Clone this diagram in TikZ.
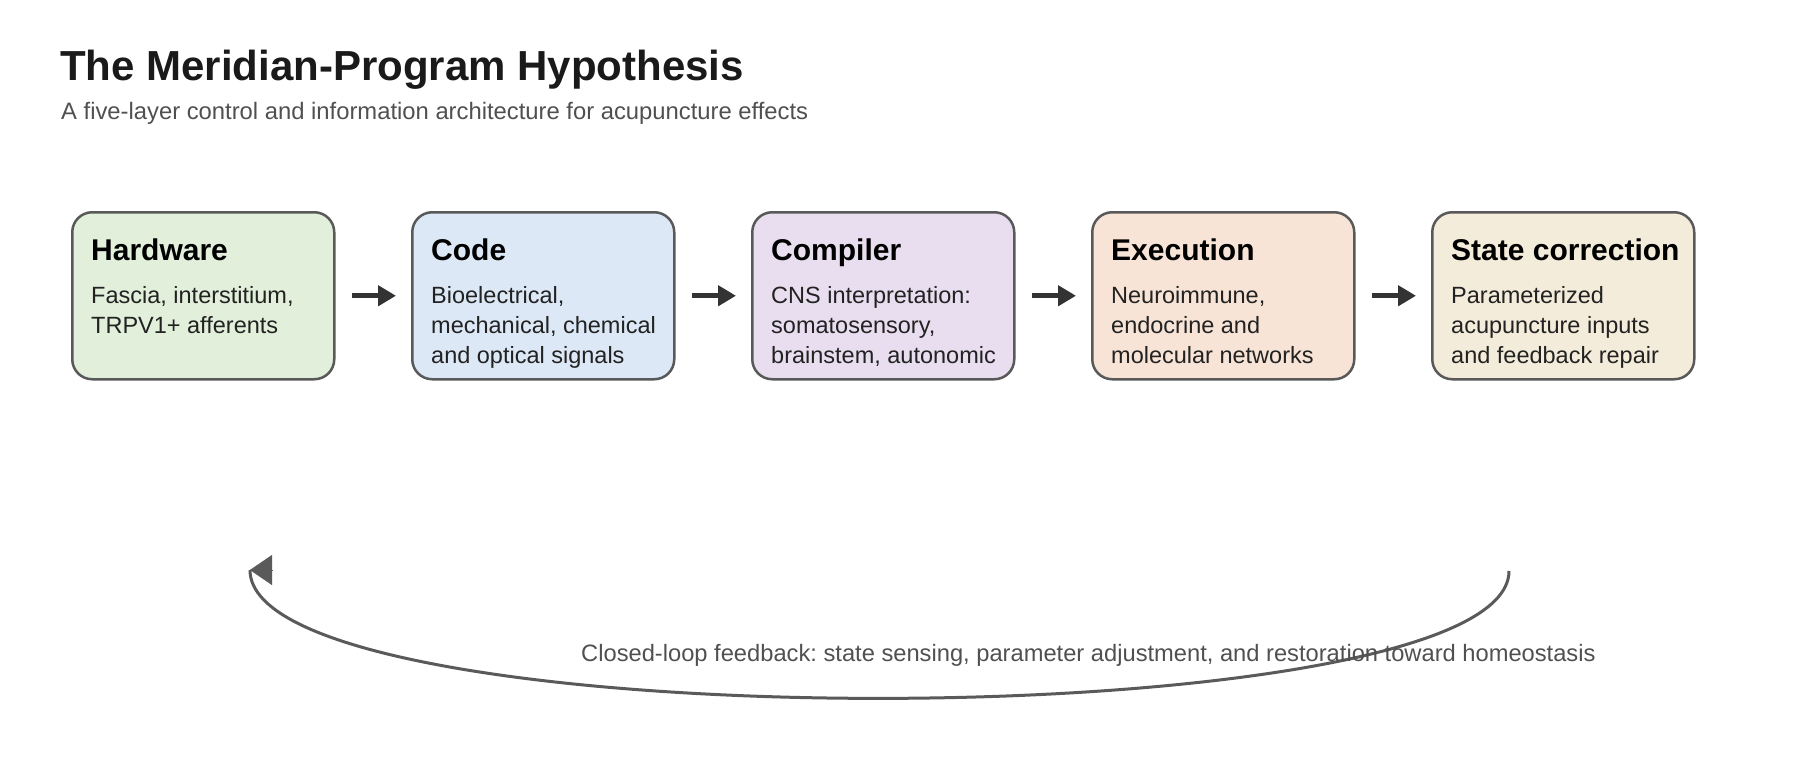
\documentclass[tikz,border=0pt]{standalone}
\usepackage{fontspec}
\setmainfont{Liberation Sans}
\usetikzlibrary{arrows.meta,calc}
\frenchspacing
\definecolor{boxline}{HTML}{595959}
\definecolor{arrowc}{HTML}{333333}
\definecolor{fbc}{HTML}{5A5A5A}
\definecolor{bodytext}{HTML}{222222}
\definecolor{titletext}{HTML}{1A1A1A}
\definecolor{subtext}{HTML}{505050}
\definecolor{fillA}{HTML}{E2EFDA}
\definecolor{fillB}{HTML}{DCE8F5}
\definecolor{fillC}{HTML}{E8DEEF}
\definecolor{fillD}{HTML}{F7E4D7}
\definecolor{fillE}{HTML}{F4ECDA}
\begin{document}
\frenchspacing
\begin{tikzpicture}[x=1pt,y=-1pt,
  layer/.style={draw=boxline, line width=2.5pt, rounded corners=20pt,
    minimum width=262pt, minimum height=167pt, inner sep=0pt, anchor=north west},
  ltitle/.style={anchor=base west, inner sep=0pt,
    font=\fontsize{30}{36}\selectfont\bfseries, text=black},
  lbody/.style={anchor=north west, inner sep=0pt, align=left,
    font=\fontsize{23.5}{30}\selectfont, text=bodytext},
  flow/.style={draw=arrowc, line width=5pt, -{Triangle[length=18pt,width=20pt]}},
  fbline/.style={draw=fbc, line width=3pt},
  fbhead/.style={draw=fbc, fill=fbc, line width=0.1pt, -{Triangle[length=22pt,width=30pt]}}
]
\useasboundingbox (0,0) rectangle (1800,760);

\node[anchor=base west, inner sep=0pt, text=titletext,
  font=\fontsize{42}{50}\selectfont\bfseries] (title) at (60,81)
  {The Meridian-Program Hypothesis};
\node[anchor=base west, inner sep=0pt, text=subtext,
  font=\fontsize{23.8}{30}\selectfont] (subtitle) at (61,119)
  {A five-layer control and information architecture for acupuncture effects};

\node[layer, fill=fillA] (b1) at (71,211) {};
\node[layer, fill=fillB] (b2) at (411,211) {};
\node[layer, fill=fillC] (b3) at (751,211) {};
\node[layer, fill=fillD] (b4) at (1091,211) {};
\node[layer, fill=fillE] (b5) at (1431,211) {};

\node[ltitle] (t1) at ($(b1.north west)+(20,49)$) {Hardware};
\node[ltitle] (t2) at ($(b2.north west)+(20,49)$) {Code};
\node[ltitle] (t3) at ($(b3.north west)+(20,49)$) {Compiler};
\node[ltitle] (t4) at ($(b4.north west)+(20,49)$) {Execution};
\node[ltitle] (t5) at ($(b5.north west)+(20,49)$) {State correction};

\node[lbody] (d1) at ($(b1.north west)+(20,71)$) {\strut Fascia, interstitium,\\TRPV1+ afferents};
\node[lbody] (d2) at ($(b2.north west)+(20,71)$) {\strut Bioelectrical,\\mechanical, chemical\\and optical signals};
\node[lbody] (d3) at ($(b3.north west)+(20,71)$) {\strut CNS interpretation:\\somatosensory,\\brainstem, autonomic};
\node[lbody] (d4) at ($(b4.north west)+(20,71)$) {\strut Neuroimmune,\\endocrine and\\molecular networks};
\node[lbody] (d5) at ($(b5.north west)+(20,71)$) {\strut Parameterized\\acupuncture inputs\\and feedback repair};

\draw[flow] ([xshift=16pt]b1.east) -- ([xshift=-15pt]b2.west);
\draw[flow] ([xshift=16pt]b2.east) -- ([xshift=-15pt]b3.west);
\draw[flow] ([xshift=16pt]b3.east) -- ([xshift=-15pt]b4.west);
\draw[flow] ([xshift=16pt]b4.east) -- ([xshift=-15pt]b5.west);

\coordinate (fbs) at (1509,571);
\coordinate (fbe) at (250,570);
\coordinate (fbhb) at (272,570);
\draw[fbline] (fbs) .. controls (1509,740) and (250,742) .. (fbe);
\draw[fbhead] (fbhb) -- (fbe);

\node[anchor=base west, inner sep=0pt, text=subtext,
  font=\fontsize{23.7}{30}\selectfont] (fblabel) at (581,661)
  {Closed-loop feedback: state sensing, parameter adjustment, and restoration toward homeostasis};
\end{tikzpicture}
\end{document}
